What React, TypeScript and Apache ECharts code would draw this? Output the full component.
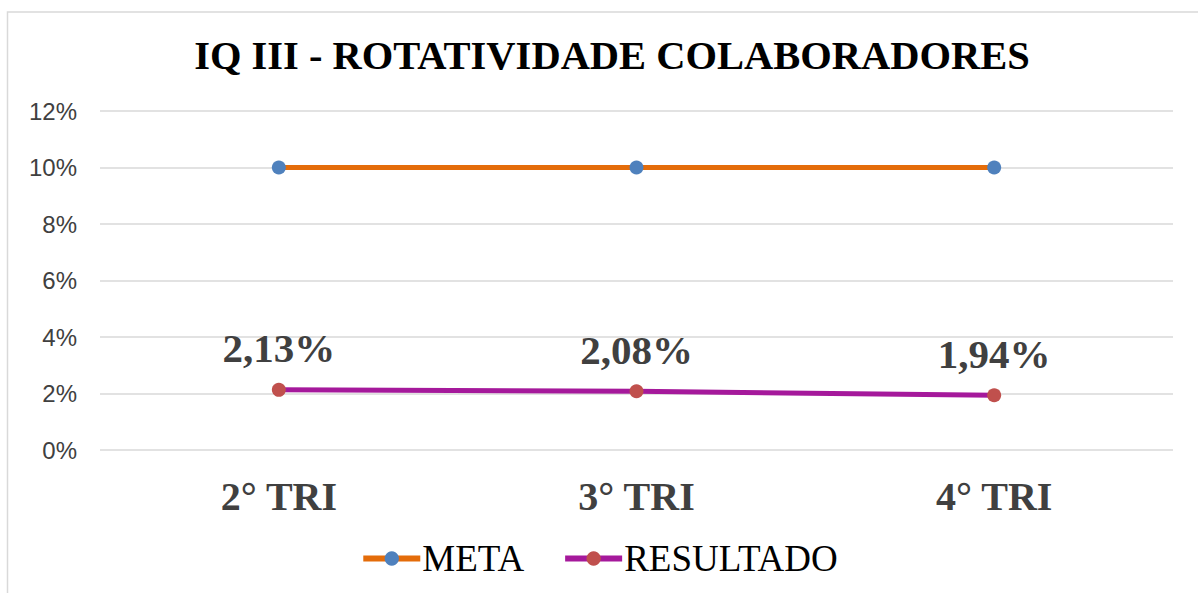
import React, { useEffect, useRef } from "react";
import * as echarts from "echarts";

const categories = ["2° TRI", "3° TRI", "4° TRI"];
const meta = [10, 10, 10];
const resultado = [2.13, 2.08, 1.94];
const titleText = "IQ III - ROTATIVIDADE COLABORADORES";

export default function App() {
  const ref = useRef<HTMLDivElement>(null);
  useEffect(() => {
    if (!ref.current) return;
    const chart = echarts.init(ref.current, null, { renderer: "svg" });
    chart.setOption({
      animation: false,
      backgroundColor: "#ffffff",
      title: {
        text: titleText,
        left: 607,
        top: 30,
        textAlign: "center",
        textStyle: {
          fontFamily: "Liberation Serif",
          fontWeight: "bold",
          fontSize: 40.5,
          color: "#000000",
        },
      },
      graphic: [
        {
          type: "rect",
          shape: { x: 7.5, y: 12, width: 1200, height: 600 },
          style: { fill: "none", stroke: "#d9d9d9", lineWidth: 1.5 },
          silent: true,
        },
      ],
      grid: { left: 100, right: 25, top: 111, bottom: 143, containLabel: false },
      legend: {
        bottom: 11,
        left: "center",
        itemWidth: 57,
        itemHeight: 18,
        itemGap: 38,
        lineStyle: { width: 6 },
        textStyle: {
          fontFamily: "Liberation Serif",
          fontSize: 37,
          color: "#000000",
          padding: [0, 0, 0, -3],
        },
        data: ["META", "RESULTADO"],
      },
      xAxis: {
        type: "category",
        data: categories,
        boundaryGap: true,
        axisLine: { show: false },
        axisTick: { show: false },
        axisLabel: {
          margin: 26,
          fontFamily: "Liberation Serif",
          fontWeight: "bold",
          fontSize: 40,
          color: "#404040",
        },
      },
      yAxis: {
        type: "value",
        min: 0,
        max: 12,
        interval: 2,
        axisLine: { show: false },
        axisTick: { show: false },
        splitLine: { lineStyle: { color: "#d9d9d9", width: 1.5 } },
        axisLabel: {
          formatter: "{value}%",
          margin: 23,
          fontFamily: "Liberation Sans",
          fontSize: 24,
          color: "#404040",
        },
      },
      series: [
        {
          name: "META",
          type: "line",
          data: meta,
          symbol: "circle",
          symbolSize: 14,
          lineStyle: { color: "#E46C0A", width: 5 },
          itemStyle: { color: "#4F81BD" },
          label: { show: false },
        },
        {
          name: "RESULTADO",
          type: "line",
          data: resultado,
          symbol: "circle",
          symbolSize: 14,
          lineStyle: { color: "#A5199B", width: 5 },
          itemStyle: { color: "#C0504D" },
          label: {
            show: true,
            position: "top",
            distance: 14,
            formatter: (p: any) => p.value.toFixed(2).replace(".", ",") + "%",
            fontFamily: "Liberation Serif",
            fontWeight: "bold",
            fontSize: 41,
            color: "#404040",
          },
        },
      ],
    });
    return () => chart.dispose();
  }, []);
  return (
    <div
      ref={ref}
      style={{ position: "fixed", left: 0, top: 0, width: 1198, height: 593 }}
    />
  );
}
